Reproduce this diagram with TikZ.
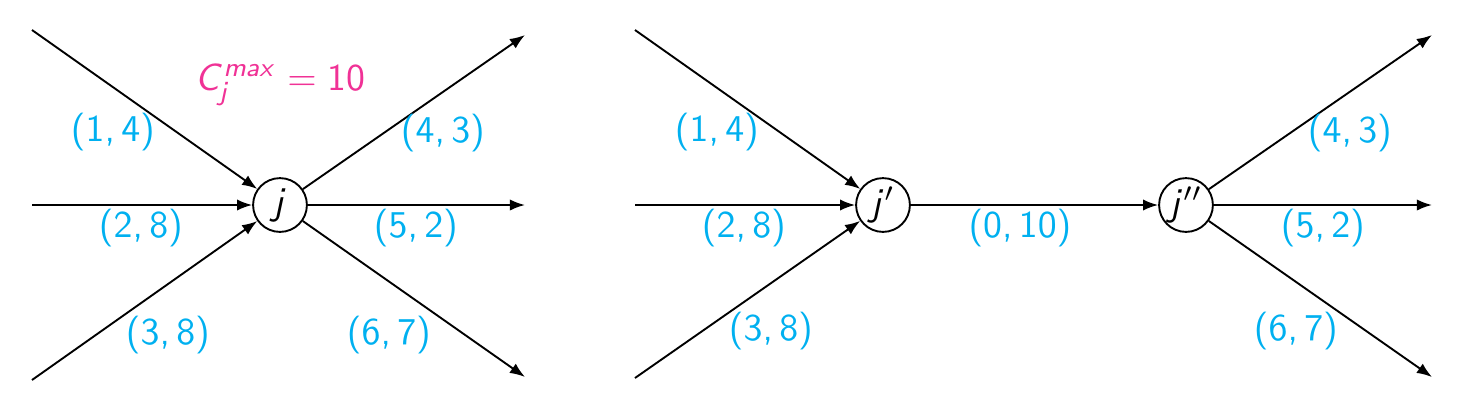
\documentclass[tikz,border=0pt]{standalone}
\usepackage{amsmath}
\usepackage{xcolor}
\usepackage{tikz}
\usetikzlibrary{arrows.meta}

% sans serif math, slanted letters
\SetSymbolFont{operators}{normal}{OT1}{cmss}{m}{n}
\SetSymbolFont{letters}{normal}{OT1}{cmss}{m}{sl}
\mathcode`,="602C

\definecolor{labcyan}{RGB}{0,176,240}
\definecolor{labpink}{RGB}{240,50,150}

\tikzset{
  vertex/.style={circle,draw,line width=0.5pt,minimum size=0.5cm,inner sep=0pt},
  arc/.style={line width=0.5pt,-{Latex[length=4pt,width=3pt]}},
  weight/.style={text=labcyan}
}

\begin{document}
\begin{tikzpicture}[x=0.0093cm,y=-0.0093cm,font=\sffamily]
\useasboundingbox (0,0) rectangle (1466,411);

% left picture: one node j
\node[vertex] (j) at (280,205) {$j$};
\coordinate (la) at (32,30);
\coordinate (lb) at (32,205);
\coordinate (lc) at (32,380);
\coordinate (ra) at (525,35);
\coordinate (rb) at (525,205);
\coordinate (rc) at (525,377);
\foreach \s in {la,lb,lc} {
    \draw[arc] (\s) -- (j);
}
\foreach \t in {ra,rb,rc} {
    \draw[arc] (j) -- (\t);
}
\node[text=labpink] (cmax) at (280,85) {$C_j^{max} = 10$};

\node[weight] (w14) at (113,132) {$(1,4)$};
\node[weight] (w28) at (141,228) {$(2,8)$};
\node[weight] (w38) at (168,335) {$(3,8)$};
\node[weight] (w43) at (443,133) {$(4,3)$};
\node[weight] (w52) at (416,228) {$(5,2)$};
\node[weight] (w67) at (389,335) {$(6,7)$};

% right picture: j split into j' and j''
\node[vertex] (jin) at (883,205) {$j'$};
\node[vertex] (jout) at (1186,205) {$j''$};
\coordinate (lla) at (635,30);
\coordinate (llb) at (635,205);
\coordinate (llc) at (635,378);
\coordinate (rra) at (1432,35);
\coordinate (rrb) at (1432,205);
\coordinate (rrc) at (1432,377);
\foreach \s in {lla,llb,llc} {
    \draw[arc] (\s) -- (jin);
}
\draw[arc] (jin) -- (jout);
\foreach \t in {rra,rrb,rrc} {
    \draw[arc] (jout) -- (\t);
}

\node[weight] (v14) at (717,132) {$(1,4)$};
\node[weight] (v28) at (744,228) {$(2,8)$};
\node[weight] (v38) at (771,331) {$(3,8)$};
\node[weight] (v010) at (1020,228) {$(0,10)$};
\node[weight] (v43) at (1350,133) {$(4,3)$};
\node[weight] (v52) at (1323,228) {$(5,2)$};
\node[weight] (v67) at (1296,331) {$(6,7)$};
\end{tikzpicture}
\end{document}
